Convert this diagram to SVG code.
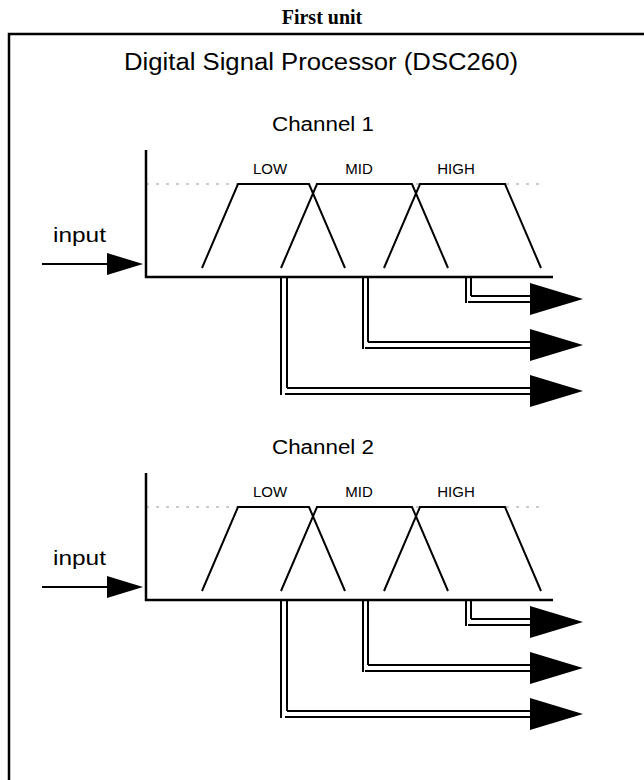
<svg xmlns="http://www.w3.org/2000/svg" width="644" height="780" viewBox="0 0 644 780">
<style>
.t{font-family:"Liberation Sans",Arial,sans-serif;fill:#000}
.lbl{font-size:15px}
.ch{font-size:20px}
.in{font-size:21px}
.ln{stroke:#000;stroke-width:2;fill:none}
.ax{stroke:#000;stroke-width:2.5;fill:none}
.dot{stroke:#bbb;stroke-width:1.5;stroke-dasharray:3 7;fill:none}
.ah{fill:#000}
</style>
<rect width="644" height="780" fill="#fff"/>
<text x="322" y="24" text-anchor="middle" font-family="Liberation Serif,Times New Roman,serif" font-weight="bold" font-size="20">First unit</text>
<g id="dsp">
<path d="M9,800 V34 H660" class="ax" stroke-width="2"/>
<text class="t" x="124" y="70" font-size="23" textLength="394" lengthAdjust="spacingAndGlyphs">Digital Signal Processor (DSC260)</text>
</g>
<g id="channel1">
<text class="t ch" x="272" y="131" textLength="102" lengthAdjust="spacingAndGlyphs">Channel 1</text>
<line x1="146" y1="184" x2="545" y2="184" class="dot"/>
<path d="M146,150 V278 M145,277 H553" class="ax"/>
<g id="ch1-low"><polyline points="202,268 238,184 309,184 345,268" class="ln"/><text class="t lbl" x="270" y="174" text-anchor="middle">LOW</text></g>
<g id="ch1-mid"><polyline points="281,268 317,184 412,184 448,268" class="ln"/><text class="t lbl" x="359" y="174" text-anchor="middle">MID</text></g>
<g id="ch1-high"><polyline points="384,268 420,184 505,184 541,268" class="ln"/><text class="t lbl" x="456" y="174" text-anchor="middle">HIGH</text></g>
<text class="t in" x="53" y="242" textLength="53" lengthAdjust="spacingAndGlyphs">input</text>
</g>
<g id="channel2" transform="translate(0,323)">
<text class="t ch" x="272" y="131" textLength="102" lengthAdjust="spacingAndGlyphs">Channel 2</text>
<line x1="146" y1="184" x2="545" y2="184" class="dot"/>
<path d="M146,150 V278 M145,277 H553" class="ax"/>
<g id="ch2-low"><polyline points="202,268 238,184 309,184 345,268" class="ln"/><text class="t lbl" x="270" y="174" text-anchor="middle">LOW</text></g>
<g id="ch2-mid"><polyline points="281,268 317,184 412,184 448,268" class="ln"/><text class="t lbl" x="359" y="174" text-anchor="middle">MID</text></g>
<g id="ch2-high"><polyline points="384,268 420,184 505,184 541,268" class="ln"/><text class="t lbl" x="456" y="174" text-anchor="middle">HIGH</text></g>
<text class="t in" x="53" y="242" textLength="53" lengthAdjust="spacingAndGlyphs">input</text>
</g>
<g id="connectors">
<g id="conn1">
<line x1="42" y1="264" x2="110" y2="264" class="ln"/>
<polygon points="107,253 143,264 107,275" class="ah"/>
<path d="M281,277 V395 M287,277 V388 M287,388 H532 M285,394 H532" class="ln"/>
<polygon points="530,375 583,391 530,407" class="ah"/>
<path d="M363,277 V349 M368,277 V342 M368,342 H532 M365,348 H532" class="ln"/>
<polygon points="530,329 583,345 530,361" class="ah"/>
<path d="M466,277 V303 M471,277 V296 M471,296 H532 M468,302 H532" class="ln"/>
<polygon points="530,283 583,299 530,315" class="ah"/>
</g>
<g id="conn2" transform="translate(0,323)">
<line x1="42" y1="264" x2="110" y2="264" class="ln"/>
<polygon points="107,253 143,264 107,275" class="ah"/>
<path d="M281,277 V395 M287,277 V388 M287,388 H532 M285,394 H532" class="ln"/>
<polygon points="530,375 583,391 530,407" class="ah"/>
<path d="M363,277 V349 M368,277 V342 M368,342 H532 M365,348 H532" class="ln"/>
<polygon points="530,329 583,345 530,361" class="ah"/>
<path d="M466,277 V303 M471,277 V296 M471,296 H532 M468,302 H532" class="ln"/>
<polygon points="530,283 583,299 530,315" class="ah"/>
</g>
</g>
</svg>
